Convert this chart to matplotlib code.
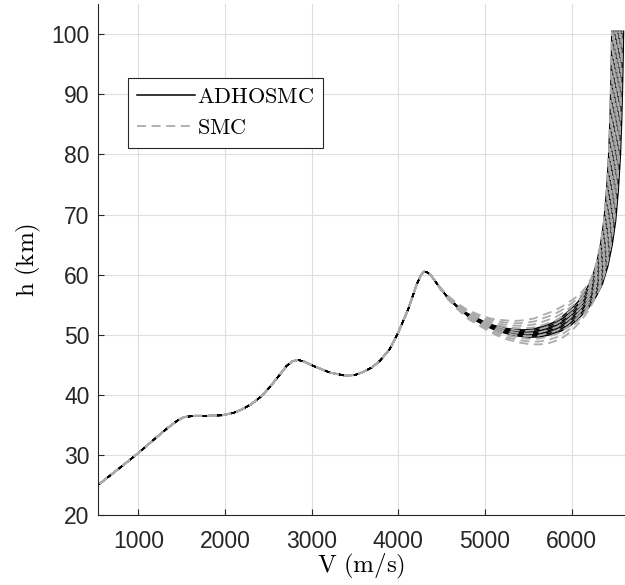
import matplotlib

matplotlib.use("Agg")
import matplotlib.pyplot as plt
import numpy as np

plt.rcParams["font.family"] = "Liberation Sans"
plt.rcParams["mathtext.fontset"] = "cm"
plt.rcParams["lines.scale_dashes"] = False

# nominal descent trajectory: velocity (m/s) vs altitude (km)
v_nom = [555, 800, 1000, 1200, 1340, 1450, 1530, 1650, 1800, 1970, 2100, 2185,
         2300, 2415, 2530, 2635, 2710, 2780, 2845, 2920, 3020, 3210, 3385, 3500,
         3595, 3700, 3790, 3900, 4000, 4115, 4210, 4260, 4297, 4330, 4370, 4420,
         4480, 4570, 4670, 4800, 5000, 5120, 5250, 5370, 5480, 5600, 5710, 5830,
         5940, 6050, 6135, 6220, 6290, 6350, 6400, 6440, 6470, 6495, 6510, 6520,
         6527, 6530]
h_nom = [25.2, 28.0, 30.3, 32.8, 34.5, 35.7, 36.3, 36.5, 36.5, 36.6, 37.0, 37.5,
         38.4, 39.7, 41.5, 43.4, 44.8, 45.6, 45.8, 45.5, 44.8, 43.7, 43.2, 43.3,
         43.8, 44.6, 45.7, 47.6, 50.4, 54.3, 58.3, 59.9, 60.5, 60.4, 60.0, 59.0,
         57.8, 56.2, 54.8, 53.3, 51.8, 51.1, 50.6, 50.3, 50.2, 50.3, 50.7, 51.3,
         52.3, 53.7, 55.0, 56.8, 58.8, 61.5, 65.0, 69.0, 74.0, 80.0, 86.0, 92.0,
         97.0, 100.5]

# run-to-run dispersion read from the bundle (velocity, and altitude per method)
spread_v = [0] * 36 + [3, 5, 8, 12, 16, 20, 24, 28, 32, 36, 40, 45,
                       50, 55, 60, 63, 65, 66, 67, 67, 67, 67, 67, 67, 67, 67]
spread_h_smc = [0] * 36 + [0.2, 0.4, 0.6, 0.9, 1.2, 1.5, 1.8, 2.0, 2.2, 2.4, 2.6, 2.6,
                           2.4, 2.0, 1.5, 1.0, 0.6, 0.3, 0, 0, 0, 0, 0, 0, 0, 0]
spread_h_adh = [0] * 36 + [0, 0.1, 0.2, 0.3, 0.4, 0.45, 0.5, 0.55, 0.6, 0.65, 0.7, 0.7,
                           0.7, 0.6, 0.5, 0.4, 0.3, 0.1, 0, 0, 0, 0, 0, 0, 0, 0]

adh_runs = [-1.0, -0.7, -0.4, -0.15, 0.15, 0.4, 0.7, 1.0]
smc_runs = [-0.8, -0.6, -0.4, -0.2, 0.0, 0.2, 0.4, 0.6, 0.8, 1.0]

V = np.array(v_nom, dtype=float)
H = np.array(h_nom, dtype=float)
sV = np.array(spread_v, dtype=float)
sH_smc = np.array(spread_h_smc, dtype=float)
sH_adh = np.array(spread_h_adh, dtype=float)

fig = plt.figure(figsize=(6.25, 5.85), dpi=100)
ax = fig.add_axes([0.1568, 0.1197, 0.8432, 0.873])

for i, s in enumerate(adh_runs):
    ax.plot(V - s * sV, H + s * sH_adh, color="black", lw=1.1,
            label=r"$\mathrm{ADHOSMC}$" if i == 0 else None, zorder=3)
for i, s in enumerate(smc_runs):
    ax.plot(V - s * sV, H + s * sH_smc, color="#ababab", lw=1.3,
            linestyle="--", dashes=(6.5, 4),
            label=r"$\mathrm{SMC}$" if i == 0 else None, zorder=4)

ax.set_xlim(535, 6615)
ax.set_ylim(20, 105)
ax.set_xticks([1000, 2000, 3000, 4000, 5000, 6000])
ax.set_yticks([20, 30, 40, 50, 60, 70, 80, 90, 100])
ax.grid(True, color="#dedede", linewidth=0.8)
ax.set_axisbelow(True)
ax.spines["top"].set_visible(False)
ax.spines["right"].set_visible(False)
for sp in ["left", "bottom"]:
    ax.spines[sp].set_color("#262626")
    ax.spines[sp].set_linewidth(0.8)
ax.tick_params(direction="in", length=4, width=0.8, colors="#262626",
               labelsize=16.5)
ax.tick_params(axis="x", pad=11)
ax.tick_params(axis="y", pad=6)

ax.set_xlabel(r"$\mathrm{V\ (m/s)}$", fontsize=18, labelpad=-1)
ax.set_ylabel(r"$\mathrm{h\ (km)}$", fontsize=18, labelpad=6)

leg = ax.legend(loc="upper left", bbox_to_anchor=(0.057, 0.856), borderaxespad=0,
                fontsize=16, fancybox=False, framealpha=1, edgecolor="#262626",
                handlelength=2.6, handletextpad=0.1, borderpad=0.4,
                labelspacing=0.45)
leg.get_frame().set_linewidth(0.8)

fig.savefig("out.png", dpi=100)
